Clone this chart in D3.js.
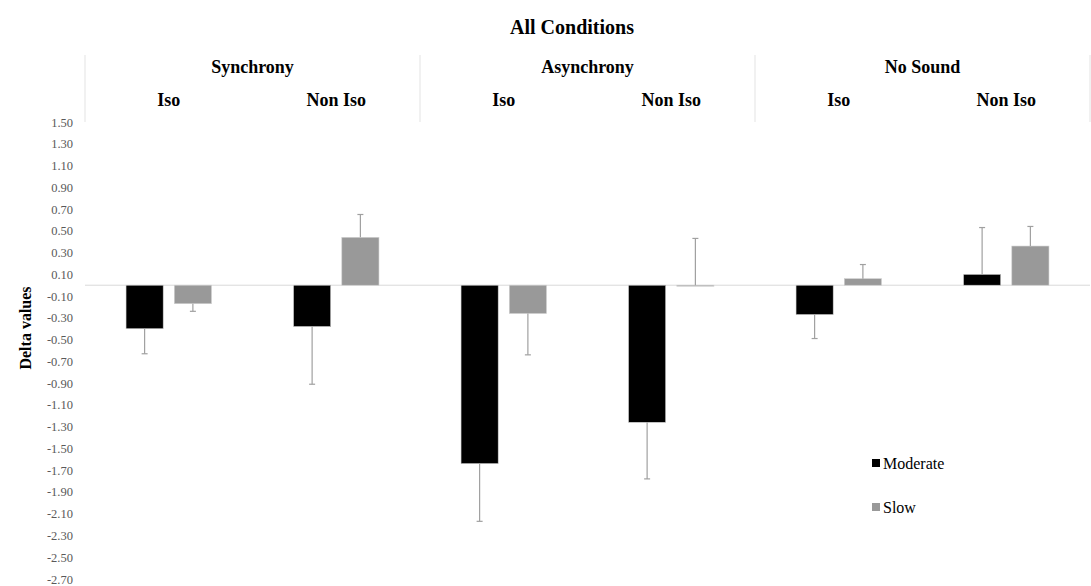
<!DOCTYPE html>
<html>
<head>
<meta charset="utf-8">
<script src="https://cdn.jsdelivr.net/npm/d3@7"></script>
<style>
  body { margin: 0; background: #fff; }
</style>
</head>
<body>
<svg id="chart"></svg>
<script>
// Chart data
const groups = ["Synchrony", "Asynchrony", "No Sound"];
const conditions = ["Iso", "Non Iso"];
const series = ["Moderate", "Slow"];
const seriesColors = ["#000000", "#999999"];

// one value per group/condition pair, in order
const moderate = [-0.40, -0.38, -1.64, -1.26, -0.27, 0.10];
const slow = [-0.17, 0.44, -0.26, 0.00, 0.06, 0.36];
const moderateErr = [0.23, 0.53, 0.53, 0.52, 0.22, 0.43];
const slowErr = [0.07, 0.21, 0.38, 0.43, 0.13, 0.18];

const yTicks = [1.5, 1.3, 1.1, 0.9, 0.7, 0.5, 0.3, 0.1, -0.1, -0.3, -0.5, -0.7, -0.9,
    -1.1, -1.3, -1.5, -1.7, -1.9, -2.1, -2.3, -2.5, -2.7];

const serif = "'Liberation Serif', 'Times New Roman', serif";
const width = 1091, height = 586;
const margin = { top: 122, right: 1, bottom: 7, left: 85 };

const svg = d3.select("#chart")
    .attr("width", width)
    .attr("height", height)
    .style("font-family", serif);

// Build the sub categories (group x condition)
const cells = [];
groups.forEach(g => conditions.forEach(c => cells.push(g + "|" + c)));

const rows = cells.map((key, i) => ({
    key: key,
    values: [
        { name: "Moderate", value: moderate[i], err: moderateErr[i] },
        { name: "Slow", value: slow[i], err: slowErr[i] }
    ]
}));

// Scales
const xGroup = d3.scaleBand()
    .domain(groups)
    .range([margin.left, width - margin.right]);

const x0 = d3.scaleBand()
    .domain(cells)
    .range([margin.left, width - margin.right])
    .paddingInner(0.49)
    .paddingOuter(0.245);

const x1 = d3.scaleBand()
    .domain(series)
    .range([0, x0.bandwidth()])
    .paddingInner(0.23);

const y = d3.scaleLinear()
    .domain([-2.7, 1.5])
    .range([height - margin.bottom, margin.top]);

const color = d3.scaleOrdinal()
    .domain(series)
    .range(seriesColors);

// Title
svg.append("text")
    .attr("x", 572)
    .attr("y", 34)
    .attr("text-anchor", "middle")
    .attr("font-size", 20)
    .attr("font-weight", "bold")
    .text("All Conditions");

// Header separators
const sepX = groups.map(g => xGroup(g)).concat([width - margin.right]);
svg.append("g")
    .selectAll("line")
    .data(sepX)
    .join("line")
    .attr("x1", d => d)
    .attr("x2", d => d)
    .attr("y1", 55)
    .attr("y2", margin.top)
    .attr("stroke", "#e3e3e3")
    .attr("stroke-width", 1);

// Group labels
svg.append("g")
    .selectAll("text")
    .data(groups)
    .join("text")
    .attr("x", d => xGroup(d) + xGroup.bandwidth() / 2)
    .attr("y", 73)
    .attr("text-anchor", "middle")
    .attr("font-size", 18)
    .attr("font-weight", "bold")
    .text(d => d);

// Condition labels
svg.append("g")
    .selectAll("text")
    .data(cells)
    .join("text")
    .attr("x", d => x0(d) + x0.bandwidth() / 2)
    .attr("y", 106)
    .attr("text-anchor", "middle")
    .attr("font-size", 18)
    .attr("font-weight", "bold")
    .text(d => d.split("|")[1]);

// Y axis (labels only)
const yAxis = svg.append("g")
    .attr("transform", `translate(${margin.left - 12},0)`)
    .call(d3.axisLeft(y).tickValues(yTicks).tickSize(0).tickFormat(d => d.toFixed(2)))
    .attr("font-family", serif)
    .attr("font-size", 12.5);
yAxis.select(".domain").remove();
yAxis.selectAll("text")
    .attr("fill", "#595959")
    .attr("x", 0);

// Y axis title
svg.append("text")
    .attr("transform", `translate(25, 328) rotate(-90)`)
    .attr("text-anchor", "middle")
    .attr("dominant-baseline", "central")
    .attr("font-size", 16)
    .attr("font-weight", "bold")
    .text("Delta values");

// Zero line
svg.append("line")
    .attr("x1", margin.left)
    .attr("x2", width - margin.right)
    .attr("y1", y(0))
    .attr("y2", y(0))
    .attr("stroke", "#d9d9d9")
    .attr("stroke-width", 1);

// Bars
const cellG = svg.append("g")
    .selectAll("g")
    .data(rows)
    .join("g")
    .attr("transform", d => `translate(${x0(d.key)},0)`);

cellG.selectAll("rect")
    .data(d => d.values)
    .join("rect")
    .attr("x", d => x1(d.name))
    .attr("width", x1.bandwidth())
    .attr("y", d => y(Math.max(0, d.value)))
    .attr("height", d => Math.max(1, Math.abs(y(d.value) - y(0))))
    .attr("fill", d => color(d.name))
    .attr("stroke", "#d0d0d0")
    .attr("stroke-width", 0.6);

// Error bars (one-sided, away from zero)
const errEnd = d => d.value + (d.value < 0 ? -d.err : d.err);

cellG.selectAll("line.err")
    .data(d => d.values)
    .join("line")
    .attr("class", "err")
    .attr("x1", d => x1(d.name) + x1.bandwidth() / 2)
    .attr("x2", d => x1(d.name) + x1.bandwidth() / 2)
    .attr("y1", d => y(d.value))
    .attr("y2", d => y(errEnd(d)))
    .attr("stroke", "#a0a0a0")
    .attr("stroke-width", 1.2);

cellG.selectAll("line.cap")
    .data(d => d.values)
    .join("line")
    .attr("class", "cap")
    .attr("x1", d => x1(d.name) + x1.bandwidth() / 2 - 3)
    .attr("x2", d => x1(d.name) + x1.bandwidth() / 2 + 3)
    .attr("y1", d => y(errEnd(d)))
    .attr("y2", d => y(errEnd(d)))
    .attr("stroke", "#a0a0a0")
    .attr("stroke-width", 1.2);

// Legend
const legend = svg.append("g")
    .attr("transform", "translate(872, 463)")
    .selectAll("g")
    .data(series)
    .join("g")
    .attr("transform", (d, i) => `translate(0, ${i * 44})`);

legend.append("rect")
    .attr("x", 0)
    .attr("y", -4)
    .attr("width", 8)
    .attr("height", 8)
    .attr("fill", d => color(d));

legend.append("text")
    .attr("x", 11)
    .attr("y", 0)
    .attr("dominant-baseline", "central")
    .attr("font-size", 16)
    .attr("fill", "#000")
    .text(d => d);
</script>
</body>
</html>
